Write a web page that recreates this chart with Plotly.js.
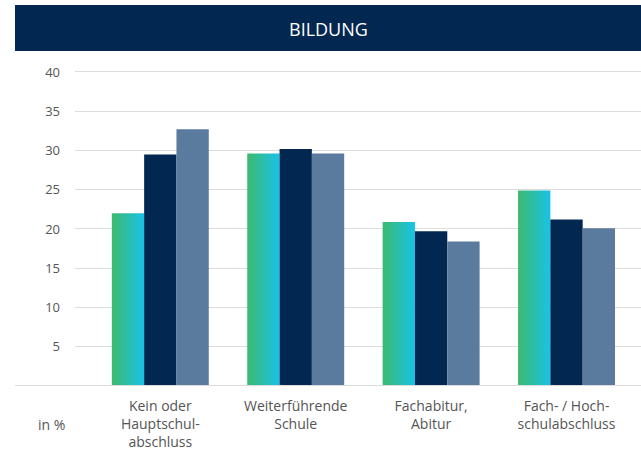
<!DOCTYPE html>
<html>
<head>
<meta charset="utf-8">
<script src="https://cdn.plot.ly/plotly-3.0.1.min.js"></script>
<style>html,body{margin:0;padding:0;background:#fff;}#chart{width:641px;height:451px;}</style>
</head>
<body>
<div id="chart"></div>
<script>
const categories = ["Kein oder<br>Hauptschul-<br>abschluss", "Weiterführende<br>Schule", "Fachabitur,<br>Abitur", "Fach- / Hoch-<br>schulabschluss"];
const series1 = [22.0, 29.6, 20.9, 24.9];
const series2 = [29.5, 30.2, 19.7, 21.2];
const series3 = [32.7, 29.6, 18.4, 20.1];
const yTicks = [5, 10, 15, 20, 25, 30, 35, 40];
const chartTitle = "BILDUNG";
const unitLabel = "in %";

const navy = "#022750";
const slate = "#5a7a9e";

const traces = [
  {type: "bar", x: categories, y: series1, marker: {color: "#2cbd9c"}, hoverinfo: "y"},
  {type: "bar", x: categories, y: series2, marker: {color: navy}, hoverinfo: "y"},
  {type: "bar", x: categories, y: series3, marker: {color: slate}, hoverinfo: "y"}
];

const layout = {
  width: 641, height: 451,
  margin: {l: 75, r: 0, t: 70, b: 65},
  paper_bgcolor: "#fff", plot_bgcolor: "#fff",
  showlegend: false,
  barmode: "group", bargap: 0.284, bargroupgap: 0,
  font: {family: "Open Sans, sans-serif", size: 13, color: "#555"},
  xaxis: {
    type: "category", range: [-0.63, 3.55], showgrid: false, zeroline: false,
    showline: false, ticks: "", ticklabelstandoff: 10,
    tickfont: {size: 14, color: "#555"}, fixedrange: true
  },
  yaxis: {
    range: [0, 40.25], tickvals: yTicks, showgrid: true, gridcolor: "#dcdcdc", gridwidth: 1,
    zeroline: false, showline: false, ticks: "", ticklabelstandoff: 14,
    tickfont: {size: 13, color: "#555"}, fixedrange: true
  },
  shapes: [
    {type: "rect", xref: "paper", yref: "paper", x0: (15 - 75) / 566, x1: 1,
     y0: (386 - 51) / 316, y1: (386 - 5) / 316, fillcolor: navy, line: {width: 0}, layer: "above"},
    {type: "line", xref: "paper", yref: "y", x0: (15 - 75) / 566, x1: 1, y0: 0, y1: 0,
     line: {color: "#dcdcdc", width: 2}, layer: "above"}
  ],
  annotations: [
    {xref: "paper", yref: "paper", x: (328 - 75) / 566, y: (386 - 29) / 316, text: chartTitle,
     showarrow: false, font: {size: 18, color: "#fff"}, xanchor: "center", yanchor: "middle"},
    {xref: "paper", yref: "paper", x: (51 - 75) / 566, y: (386 - 424) / 316, text: unitLabel,
     showarrow: false, font: {size: 14, color: "#555"}, xanchor: "center", yanchor: "middle"}
  ]
};

Plotly.newPlot("chart", traces, layout, {displayModeBar: false, staticPlot: true}).then(function () {
  const svg = document.querySelector("#chart .main-svg");
  const ns = "http://www.w3.org/2000/svg";
  let defs = svg.querySelector("defs");
  if (!defs) { defs = document.createElementNS(ns, "defs"); svg.insertBefore(defs, svg.firstChild); }
  const grad = document.createElementNS(ns, "linearGradient");
  grad.setAttribute("id", "greenCyan");
  grad.setAttribute("x1", "0"); grad.setAttribute("y1", "0");
  grad.setAttribute("x2", "1"); grad.setAttribute("y2", "0");
  [["0%", "#3dba6e"], ["100%", "#18c2e8"]].forEach(function (s) {
    const st = document.createElementNS(ns, "stop");
    st.setAttribute("offset", s[0]); st.setAttribute("stop-color", s[1]);
    grad.appendChild(st);
  });
  defs.appendChild(grad);
  const firstTrace = document.querySelectorAll("#chart .barlayer .trace")[0];
  if (firstTrace) {
    firstTrace.querySelectorAll("path").forEach(function (p) { p.style.fill = "url(#greenCyan)"; });
  }
});
</script>
</body>
</html>
